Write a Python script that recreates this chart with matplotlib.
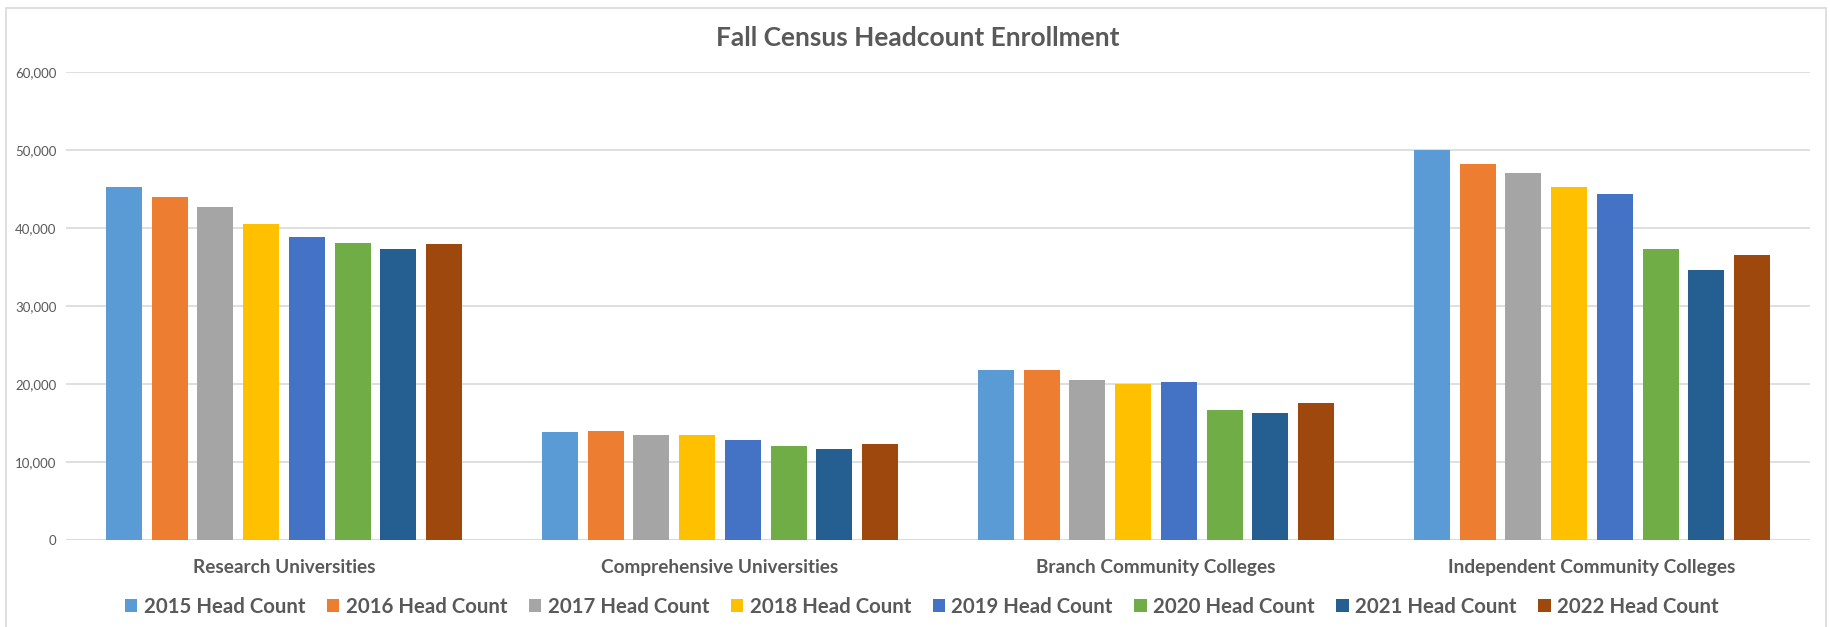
import matplotlib.pyplot as plt
from matplotlib.patches import Rectangle
from matplotlib.ticker import FuncFormatter

categories = ['Research Universities', 'Comprehensive Universities',
              'Branch Community Colleges', 'Independent Community Colleges']
years = ['2015', '2016', '2017', '2018', '2019', '2020', '2021', '2022']

hc_2015 = [45300, 13850, 21760, 49950]
hc_2016 = [44000, 14000, 21760, 48170]
hc_2017 = [42650, 13500, 20480, 47010]
hc_2018 = [40470, 13460, 19960, 45260]
hc_2019 = [38800, 12820, 20220, 44320]
hc_2020 = [38030, 12100, 16630, 37310]
hc_2021 = [37300, 11720, 16280, 34660]
hc_2022 = [38000, 12270, 17520, 36580]
series = [hc_2015, hc_2016, hc_2017, hc_2018, hc_2019, hc_2020, hc_2021, hc_2022]

colors = ['#5B9BD5', '#ED7D31', '#A5A5A5', '#FFC000',
          '#4472C4', '#70AD47', '#255E91', '#9E480E']

text_gray = '#595959'
grid_gray = '#D9D9D9'
plt.rcParams['font.family'] = ['Lato', 'DejaVu Sans']

fig = plt.figure(figsize=(18.31, 6.27), dpi=100)
ax = fig.add_axes([66 / 1831, 1 - 540 / 627, (1810 - 66) / 1831, (540 - 72) / 627])

slot = 0.1048
width = 0.0826
for j, vals in enumerate(series):
    xs = [i + (j - 3.5) * slot for i in range(len(categories))]
    ax.bar(xs, vals, width=width, color=colors[j], label=years[j] + ' Head Count',
           zorder=3)

ax.set_xlim(-0.5, len(categories) - 0.5)
ax.set_ylim(0, 60000)
ax.set_yticks(range(0, 60001, 10000))
ax.yaxis.set_major_formatter(FuncFormatter(lambda v, p: '{:,.0f}'.format(v)))
ax.grid(axis='y', color=grid_gray, linewidth=1.2, zorder=0)
for s in ax.spines.values():
    s.set_visible(False)
ax.axhline(0, color=grid_gray, linewidth=1.2, zorder=2)

ax.set_xticks(range(len(categories)))
ax.set_xticklabels(categories, fontsize=13.7, fontweight='bold', color=text_gray)
ax.tick_params(axis='x', length=0, pad=14)
ax.tick_params(axis='y', length=0, pad=7, labelsize=9.5, labelcolor=text_gray)

fig.text(0.5015, 1 - 38 / 627, 'Fall Census Headcount Enrollment', ha='center',
         va='center', fontsize=19, fontweight='bold', color=text_gray)

leg = fig.legend(loc='center', bbox_to_anchor=(0.5035, 1 - 607 / 627), ncol=8,
                 frameon=False, prop={'size': 14.7, 'weight': 'bold'},
                 handlelength=0.6, handleheight=0.6, handletextpad=0.33,
                 columnspacing=1.05)
for t in leg.get_texts():
    t.set_color(text_gray)

fig.patches.append(Rectangle((6 / 1831, -0.01), (1826 - 6) / 1831, 1 - 8 / 627 + 0.01,
                             transform=fig.transFigure, fill=False,
                             edgecolor=grid_gray, linewidth=1.2))

fig.savefig('out.png', dpi=100)
